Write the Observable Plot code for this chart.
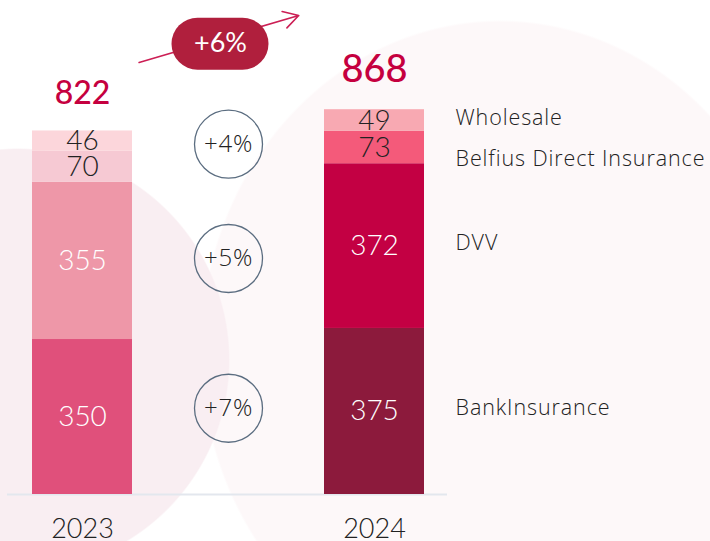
<!DOCTYPE html>
<html>
<head>
<meta charset="utf-8">
<script src="https://cdn.jsdelivr.net/npm/d3@7"></script>
<script src="https://cdn.jsdelivr.net/npm/@observablehq/plot@0.6"></script>
<style>
  html, body { margin: 0; padding: 0; background: #ffffff; }
  #chart {
    width: 710px; height: 541px; overflow: hidden;
    background:
      radial-gradient(circle 212px at 18px 360px, #f9eef2 99.3%, rgba(255,255,255,0) 100%),
      radial-gradient(ellipse 300px 330px at 500px 350px, #fdf8f9 99.3%, rgba(255,255,255,0) 100%),
      #ffffff;
  }
  #chart svg { font-family: Lato, "Open Sans", sans-serif; }
</style>
</head>
<body>
<div id="chart"></div>
<script>
// ---- data ----
const years = ["2023", "2024"];
const series = ["BankInsurance", "DVV", "Belfius Direct Insurance", "Wholesale"];
const values2023 = [350, 355, 70, 46];
const values2024 = [375, 372, 73, 49];
const totals = [822, 868];
const growthLabels = ["+7%", "+5%", "+4%"];          // BankInsurance, DVV, Belfius Direct Insurance
const totalGrowth = "+6%";
const colors2023 = ["#e0507b", "#ee97a8", "#f6c9d3", "#fcd6db"];
const colors2024 = ["#8c1a3c", "#c30043", "#f45a7a", "#f8a9b2"];
const labelColors = ["#ffffff", "#ffffff", "#222222", "#222222"];

// ---- derived rows (stacked) ----
const rows = [];
years.forEach((year, yi) => {
  const vals = yi === 0 ? values2023 : values2024;
  const cols = yi === 0 ? colors2023 : colors2024;
  let acc = 0;
  vals.forEach((v, i) => {
    rows.push({year, series: series[i], value: v, y1: acc, y2: acc + v, mid: acc + v / 2,
               color: cols[i], labelColor: labelColors[i]});
    acc += v;
  });
});
const totalRows = years.map((year, i) => ({year, total: totals[i]}));
const rowsOf = (year) => rows.filter(d => d.year === year);
const midOf = (year, s) => rows.find(d => d.year === year && d.series === s).mid;

const legendDy = [-3, -3, 12, -2];
const growthDy = [-6, 5, -13];
const growthRows = growthLabels.map((g, i) => ({
  year: "2023", label: g,
  y: (midOf("2023", series[i]) + midOf("2024", series[i])) / 2
}));

const fontLight = 300;
const wideFont = "'Open Sans', Lato, sans-serif";
const pxPerUnit = 0.4428;
const yTop = 494 - 1000 * pxPerUnit;
const totalSizes = [32, 38];
const totalDy = [-37, -40];

const marks = [
  Plot.ruleY([0], {stroke: "#e3e7ee", strokeWidth: 2, insetLeft: 7, insetRight: 263}),
  Plot.barY(rows, {x: "year", y1: "y1", y2: "y2", fill: "color"}),
  Plot.text(rows, {x: "year", y: "mid", text: d => String(d.value), fill: "labelColor",
                   fontSize: 28, fontWeight: fontLight}),
  ...totalRows.map((t, i) => Plot.text([t], {x: "year", y: "total", text: d => String(d.total),
                        dy: totalDy[i], fill: "#c5003f", fontSize: totalSizes[i], fontWeight: 500})),
  Plot.axisX({tickSize: 0, tickPadding: 24, fontSize: 27, fill: "#222", fontWeight: fontLight}),
  // legend labels next to 2024 bar
  ...series.map((s, i) => Plot.text(rowsOf("2024").filter(d => d.series === s), {
    x: "year", y: "mid", text: "series", dx: 81, dy: legendDy[i], textAnchor: "start",
    fontSize: 21.5, fill: "#222", fontWeight: fontLight, fontFamily: wideFont})),
  // growth circles
  ...growthRows.map((g, i) => Plot.dot([g], {x: "year", y: "y", dx: 146, dy: growthDy[i], r: 34,
    stroke: "#5b6d80", strokeWidth: 1.3, fill: "none"})),
  ...growthRows.map((g, i) => Plot.text([g], {x: "year", y: "y", dx: 146, dy: growthDy[i],
    text: "label", fontSize: 24, fill: "#222", fontWeight: fontLight, fontFamily: wideFont})),
  // total growth arrow + pill
  Plot.arrow([{a: "2023", b: "2024", y1: totals[0] + 116, y2: totals[1] + 264}],
    {x1: "a", x2: "b", y1: "y1", y2: "y2", insetStart: 59, insetEnd: 79,
     stroke: "#cc1f55", strokeWidth: 1.6, headLength: 16}),
  Plot.arrow([{a: "2023", b: "2024", y: totals[0] + 196}],
    {x1: "a", x2: "b", y1: "y", y2: "y", insetStart: 115, insetEnd: 132, headLength: 0,
     stroke: "#b01f3d", strokeWidth: 52, strokeLinecap: "round"}),
  Plot.text([{year: "2023", y: totals[0] + 196, label: totalGrowth}],
    {x: "year", y: "y", dx: 138, text: "label", fill: "#ffffff", fontSize: 27, fontWeight: 400})
];

const chart = Plot.plot({
  width: 710, height: 541,
  marginTop: 0, marginLeft: 0, marginRight: 0, marginBottom: 47,
  style: {background: "transparent", overflow: "visible"},
  x: {domain: years, range: [31, 424], paddingInner: 0.6587, paddingOuter: 0, axis: null},
  y: {domain: [0, 1000], range: [494, yTop], axis: null},
  marks
});
// wider tracking for the series labels (reference typeface is wider)
d3.select(chart).selectAll("text")
  .filter(function () { return series.includes(this.textContent); })
  .attr("letter-spacing", "0.9px");
d3.select(chart).selectAll("text")
  .filter(function () { return growthLabels.includes(this.textContent); })
  .attr("letter-spacing", "0.8px");
document.getElementById("chart").appendChild(chart);
</script>
</body>
</html>
